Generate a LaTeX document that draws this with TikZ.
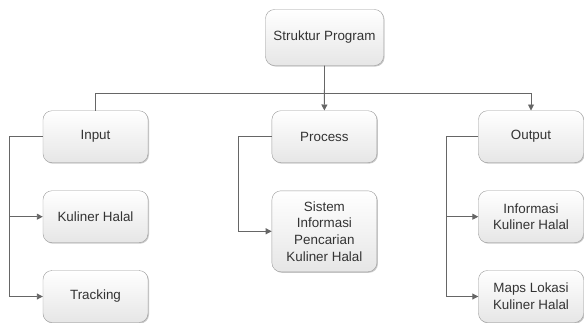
\documentclass[tikz,border=0pt]{standalone}
\usepackage{fontspec}
\setmainfont{Liberation Sans}
\usetikzlibrary{arrows.meta,shadows}

\definecolor{boxline}{HTML}{9A9A9A}
\definecolor{boxtop}{HTML}{FFFFFF}
\definecolor{boxbottom}{HTML}{E6E6E6}
\definecolor{wire}{HTML}{666666}

\begin{document}
\begin{tikzpicture}[x=1pt,y=-1pt,
  box/.style={draw=boxline,rounded corners=9pt,top color=boxtop,bottom color=boxbottom,
    minimum width=105pt,minimum height=52pt,inner sep=2pt,align=center,
    font=\fontsize{13.4}{16.7}\selectfont,text=black!80,
    drop shadow={shadow xshift=1pt,shadow yshift=-1pt,fill=black!35,opacity=0.6}},
  wire/.style={draw=wire,line width=0.9pt},
  arr/.style={wire,-{Triangle[length=6pt,width=6pt]}}]
\useasboundingbox (0,0) rectangle (584,322);

% top
\node[box,minimum width=118pt,minimum height=56pt] (prog) at (324.5,37.5) {Struktur Program};

% first row
\node[box] (input) at (95.5,136.7) {Input};
\node[box] (process) at (324.4,136.7) {Process};
\node[box] (output) at (531,136.7) {Output};

% children
\node[box] (kuliner) at (95.5,216.7) {Kuliner Halal};
\node[box] (tracking) at (95.5,296.5) {Tracking};
\node[box,minimum height=81pt] (sistem) at (324.4,231.3) {Sistem\\Informasi\\Pencarian\\Kuliner Halal};
\node[box] (info) at (531,216.7) {Informasi\\Kuliner Halal};
\node[box] (maps) at (531,296.5) {Maps Lokasi\\Kuliner Halal};

% tree lines
\coordinate (bus) at (324.5,93.3);
\draw[arr] (prog.south) -- (process.north);
\draw[wire] (input.north) |- (bus);
\draw[arr] (bus) -| (output.north);

\coordinate (inleft) at (9.3,136.7);
\draw[wire] (input.west) -- (inleft);
\foreach \child in {kuliner,tracking}
  \draw[arr] (inleft) |- (\child.west);

\coordinate (procleft) at (238.4,136.7);
\draw[wire] (process.west) -- (procleft);
\draw[arr] (procleft) |- (sistem.west);

\coordinate (outleft) at (446.2,136.7);
\draw[wire] (output.west) -- (outleft);
\foreach \child in {info,maps}
  \draw[arr] (outleft) |- (\child.west);
\end{tikzpicture}
\end{document}
